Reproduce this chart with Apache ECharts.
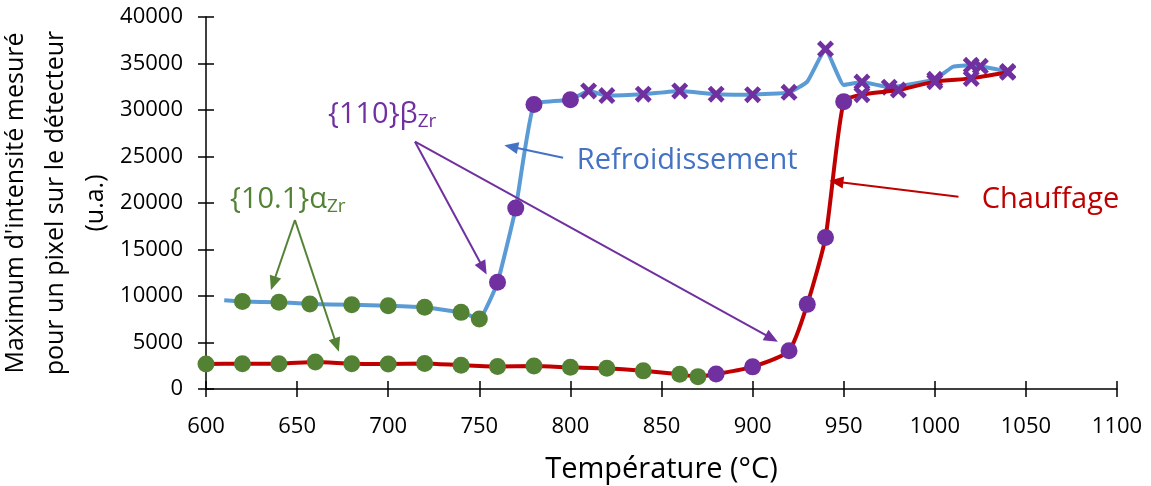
<!DOCTYPE html>
<html>
<head>
<meta charset="utf-8">
<script src="https://cdn.jsdelivr.net/npm/echarts@6/dist/echarts.min.js"></script>
<style>
html,body{margin:0;padding:0;background:#fff;}
#chart{width:1151px;height:486px;}
</style>
</head>
<body>
<div id="chart"></div>
<script>
// ---- Data ----
// Cooling (Refroidissement) curve
const coolT = [610, 620, 640, 657, 680, 700, 720, 740, 750, 760, 770, 780, 800, 810, 820, 840, 860, 880, 900, 920, 930, 940, 950, 960, 975, 1000, 1010, 1020, 1025, 1040];
const coolI = [9550, 9400, 9320, 9150, 9050, 8950, 8780, 8240, 7530, 11470, 19450, 30600, 31100, 32050, 31550, 31700, 32050, 31700, 31650, 31900, 33050, 36550, 32700, 33000, 32450, 33300, 34650, 34800, 34700, 34150];
// marker phase per point: '' none, 'a' = {10.1}alpha, 'b' = {110}beta, 'x' = beta (cross)
const coolPhase = ['', 'a', 'a', 'a', 'a', 'a', 'a', 'a', 'a', 'b', 'b', 'b', 'b', 'x', 'x', 'x', 'x', 'x', 'x', 'x', '', 'x', '', 'x', 'x', 'x', '', 'x', 'x', 'x'];

// Heating (Chauffage) curve
const heatT = [600, 620, 640, 660, 680, 700, 720, 740, 760, 780, 800, 820, 840, 860, 870, 880, 900, 920, 930, 940, 950, 960, 980, 1000, 1020, 1040];
const heatI = [2700, 2720, 2720, 2900, 2720, 2700, 2750, 2550, 2420, 2470, 2330, 2220, 1950, 1580, 1330, 1610, 2380, 4120, 9100, 16300, 30900, 31650, 32150, 33050, 33400, 34050];
const heatPhase = ['a', 'a', 'a', 'a', 'a', 'a', 'a', 'a', 'a', 'a', 'a', 'a', 'a', 'a', 'a', 'b', 'b', 'b', 'b', 'b', 'b', 'x', 'x', 'x', 'x', 'x'];

const xTicks = [600, 650, 700, 750, 800, 850, 900, 950, 1000, 1050, 1100];
const yTicks = [0, 5000, 10000, 15000, 20000, 25000, 30000, 35000, 40000];

// ---- Styling ----
const FONT = 'Open Sans';
const BLUE = '#5B9BD5', BLUE_TXT = '#4472C4', RED = '#C00000', GREEN = '#548235', PURPLE = '#7030A0';
const CROSS = 'path://M2,0 L5,3 L8,0 L10,2 L7,5 L10,8 L8,10 L5,7 L2,10 L0,8 L3,5 L0,2 Z';

function buildData(T, I, P) {
  return T.map((t, i) => {
    const p = P[i];
    const item = { value: [t, I[i]] };
    if (p === 'a') { item.symbol = 'circle'; item.symbolSize = 17; item.itemStyle = { color: GREEN }; }
    else if (p === 'b') { item.symbol = 'circle'; item.symbolSize = 17; item.itemStyle = { color: PURPLE }; }
    else if (p === 'x') { item.symbol = CROSS; item.symbolSize = 17; item.itemStyle = { color: PURPLE }; }
    else { item.symbol = 'none'; }
    return item;
  });
}

function arrow(x1, y1, x2, y2, color) {
  return [{ coord: [x1, y1], lineStyle: { color: color, width: 2, type: 'solid' }, symbol: 'none' },
          { coord: [x2, y2], symbol: 'triangle', symbolSize: [12, 14] }];
}
function note(x, y, text, color) {
  return { coord: [x, y], symbol: 'circle', symbolSize: 0, itemStyle: { color: 'transparent' },
    label: { show: true, position: 'right', distance: 0, formatter: text, color: color,
      fontFamily: FONT, fontSize: 29, rich: { sub: { fontFamily: FONT, fontSize: 19, color: color, verticalAlign: 'bottom', padding: [13, 0, 0, 0] } } } };
}

const chart = echarts.init(document.getElementById('chart'), null, { renderer: 'canvas' });
const xMin = xTicks[0], xMax = xTicks[xTicks.length - 1];
const yMin = yTicks[0], yMax = yTicks[yTicks.length - 1];
const plain = v => String(v);

chart.setOption({
  animation: false,
  backgroundColor: '#fff',
  grid: { left: 206, right: 34, top: 17, bottom: 97, containLabel: false, outerBoundsMode: 'none' },
  xAxis: [{
    type: 'value', min: xMin, max: xMax, interval: xTicks[1] - xTicks[0],
    name: 'Température (°C)', nameLocation: 'middle', nameGap: 66, nameMoveOverlap: false,
    nameTextStyle: { fontFamily: FONT, fontSize: 29, color: '#000' },
    axisLine: { show: true, onZero: false, lineStyle: { color: '#000', width: 1.5 } },
    axisTick: { show: true, length: 8, lineStyle: { color: '#000', width: 1.5 } },
    axisLabel: { fontFamily: FONT, fontSize: 22, color: '#000', margin: 27, formatter: plain },
    splitLine: { show: false }
  }, {
    type: 'value', min: xMin, max: xMax, interval: xTicks[1] - xTicks[0], position: 'bottom',
    axisLine: { show: false, onZero: false },
    axisTick: { show: true, inside: true, length: 8, lineStyle: { color: '#000', width: 1.5 } },
    axisLabel: { show: false }, splitLine: { show: false }
  }],
  yAxis: [{
    type: 'value', min: yMin, max: yMax, interval: yTicks[1] - yTicks[0],
    name: "Maximum d'intensité mesuré\npour un pixel sur le détecteur\n(u.a.)",
    nameLocation: 'middle', nameRotate: 90, nameGap: 90, nameMoveOverlap: false,
    nameTextStyle: { fontFamily: FONT, fontSize: 25, color: '#000', lineHeight: 40, align: 'center' },
    axisLine: { show: true, onZero: false, lineStyle: { color: '#000', width: 1.5 } },
    axisTick: { show: true, length: 8, lineStyle: { color: '#000', width: 1.5 } },
    axisLabel: { fontFamily: FONT, fontSize: 22, color: '#000', margin: 23, formatter: plain },
    splitLine: { show: false }
  }, {
    type: 'value', min: yMin, max: yMax, interval: yTicks[1] - yTicks[0], position: 'left',
    axisLine: { show: false, onZero: false },
    axisTick: { show: true, inside: true, length: 8, lineStyle: { color: '#000', width: 1.5 } },
    axisLabel: { show: false }, splitLine: { show: false }
  }],
  series: [
    {
      name: 'Refroidissement', type: 'line', smooth: 0.12, showSymbol: true,
      data: buildData(coolT, coolI, coolPhase),
      lineStyle: { color: BLUE, width: 4 }, itemStyle: { color: BLUE }, z: 3
    },
    {
      name: 'Chauffage', type: 'line', smooth: 0.2, showSymbol: true,
      data: buildData(heatT, heatI, heatPhase),
      lineStyle: { color: RED, width: 4 }, itemStyle: { color: RED }, z: 4
    },
    {
      name: 'annotations', type: 'line', data: [], z: 5, silent: true,
      markLine: {
        silent: true, animation: false,
        label: { show: false },
        data: [
          arrow(796, 24870, 767.5, 26050, BLUE_TXT),
          arrow(1013, 20680, 946, 22290, RED),
          arrow(714.7, 26590, 752.2, 12980, PURPLE),
          arrow(714.7, 26590, 910.5, 5450, PURPLE),
          arrow(648.8, 18170, 636.9, 11370, GREEN),
          arrow(648.8, 18170, 671.7, 4730, GREEN)
        ]
      },
      markPoint: {
        silent: true, animation: false,
        data: [
          note(803.5, 24520, 'Refroidissement', BLUE_TXT),
          note(1025.7, 20320, 'Chauffage', RED),
          note(667, 29460, '{110}β{sub|Zr}', PURPLE),
          note(613.2, 20320, '{10.1}α{sub|Zr}', GREEN)
        ]
      }
    }
  ]
});
</script>
</body>
</html>
